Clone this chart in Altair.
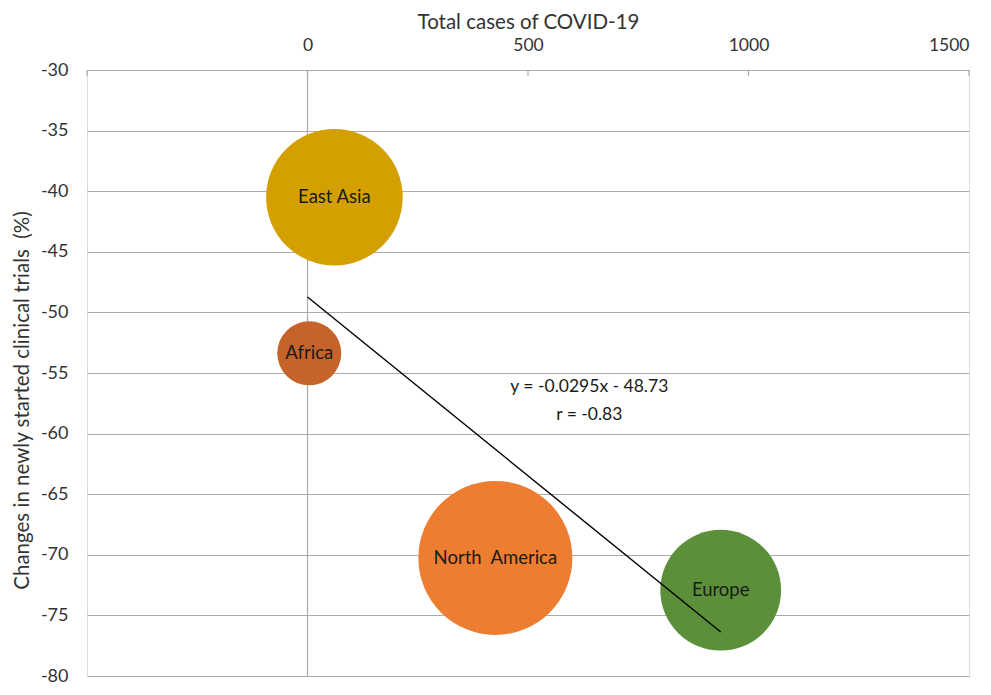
import altair as alt
import pandas as pd

regions = ["East Asia", "Africa", "North\u00a0 America", "Europe"]
total_cases = [61, 4, 426, 937]
trial_change = [-40.5, -53.38, -70.26, -72.92]
bubble_size = [4665, 1024, 5929, 3648]
colors = ["#D4A000", "#C5632A", "#ED7D31", "#5B8F3A"]

trend_x = [0, 937]
trend_y = [-48.73, -76.37]

x_ticks = [-500, 0, 500, 1000, 1500]
x_labels = [0, 500, 1000, 1500]
y_ticks = [-80, -75, -70, -65, -60, -55, -50, -45, -40, -35, -30]

eq_text = ["y = -0.0295x - 48.73", "r = -0.83"]
eq_x = [639, 639]
eq_y = [-56.14, -58.49]

FONT = "Lato"
GRID = "#ABABAB"
TXT = "#333333"

bub = pd.DataFrame({"region": regions, "x": total_cases, "y": trial_change,
                    "s": bubble_size, "c": colors})
trend = pd.DataFrame({"x": trend_x, "y": trend_y})
ticks = pd.DataFrame({"x": x_ticks, "y": [-30] * len(x_ticks), "y2": [-30.5] * len(x_ticks)})
vline = pd.DataFrame({"x": [0], "y": [-30], "y2": [-80]})
eq = pd.DataFrame({"t": eq_text, "x": eq_x, "y": eq_y})

xs = alt.Scale(domain=[-500, 1500], nice=False, zero=False)
ys = alt.Scale(domain=[-80, -30], nice=False, zero=False)

x_axis = alt.Axis(orient="top", values=x_labels, grid=False, ticks=False,
                  domain=True, domainColor=GRID, domainWidth=1.2,
                  labelExpr="'' + datum.value",
                  labelFont=FONT, labelFontSize=17.5, labelColor=TXT, labelPadding=16,
                  title="Total cases of COVID-19", titleFont=FONT, titleFontSize=20.5,
                  titleFontWeight="normal", titleColor=TXT, titlePadding=4)
y_axis = alt.Axis(values=y_ticks, grid=True, gridColor=GRID, gridWidth=1.2,
                  ticks=False, domain=False,
                  labelExpr="'' + datum.value",
                  labelFont=FONT, labelFontSize=18, labelColor=TXT, labelPadding=19,
                  title="Changes in newly started clinical trials\u00a0 (%)",
                  titleFont=FONT, titleFontSize=20.5, titleFontWeight="normal",
                  titleColor=TXT, titlePadding=8, titleY=330)

base_axes = alt.Chart(vline).mark_rule(color=GRID, strokeWidth=1.2).encode(
    x=alt.X("x:Q", scale=xs, axis=x_axis),
    y=alt.Y("y:Q", scale=ys, axis=y_axis),
    y2="y2:Q",
)

tick_marks = alt.Chart(ticks).mark_rule(color=GRID, strokeWidth=1.2).encode(
    x=alt.X("x:Q", scale=xs), y=alt.Y("y:Q", scale=ys), y2="y2:Q"
)

bubbles = alt.Chart(bub).mark_circle(opacity=1, strokeWidth=0).encode(
    x=alt.X("x:Q", scale=xs),
    y=alt.Y("y:Q", scale=ys),
    size=alt.Size("s:Q", scale=alt.Scale(domain=[0, 5929], range=[0, 23716]), legend=None),
    color=alt.Color("c:N", scale=None),
)

labels = alt.Chart(bub).mark_text(font=FONT, fontSize=18.5, color="#1a1a1a",
                                  align="center", baseline="middle").encode(
    x=alt.X("x:Q", scale=xs), y=alt.Y("y:Q", scale=ys), text="region:N"
)

trend_line = alt.Chart(trend).mark_line(color="#000000", strokeWidth=1.4).encode(
    x=alt.X("x:Q", scale=xs), y=alt.Y("y:Q", scale=ys)
)

eq_labels = alt.Chart(eq).mark_text(font=FONT, fontSize=17.5, color="#1a1a1a",
                                    align="center", baseline="middle").encode(
    x=alt.X("x:Q", scale=xs), y=alt.Y("y:Q", scale=ys), text="t:N"
)

chart = alt.layer(base_axes, tick_marks, bubbles, labels, trend_line, eq_labels).properties(
    width=882, height=606,
    autosize=alt.AutoSizeParams(type="none"),
    padding={"left": 79, "top": 62, "right": 14, "bottom": 11},
).configure_view(stroke=None).configure(background="white")

chart.save("out.html", embed_options={"renderer": "svg", "actions": False})
